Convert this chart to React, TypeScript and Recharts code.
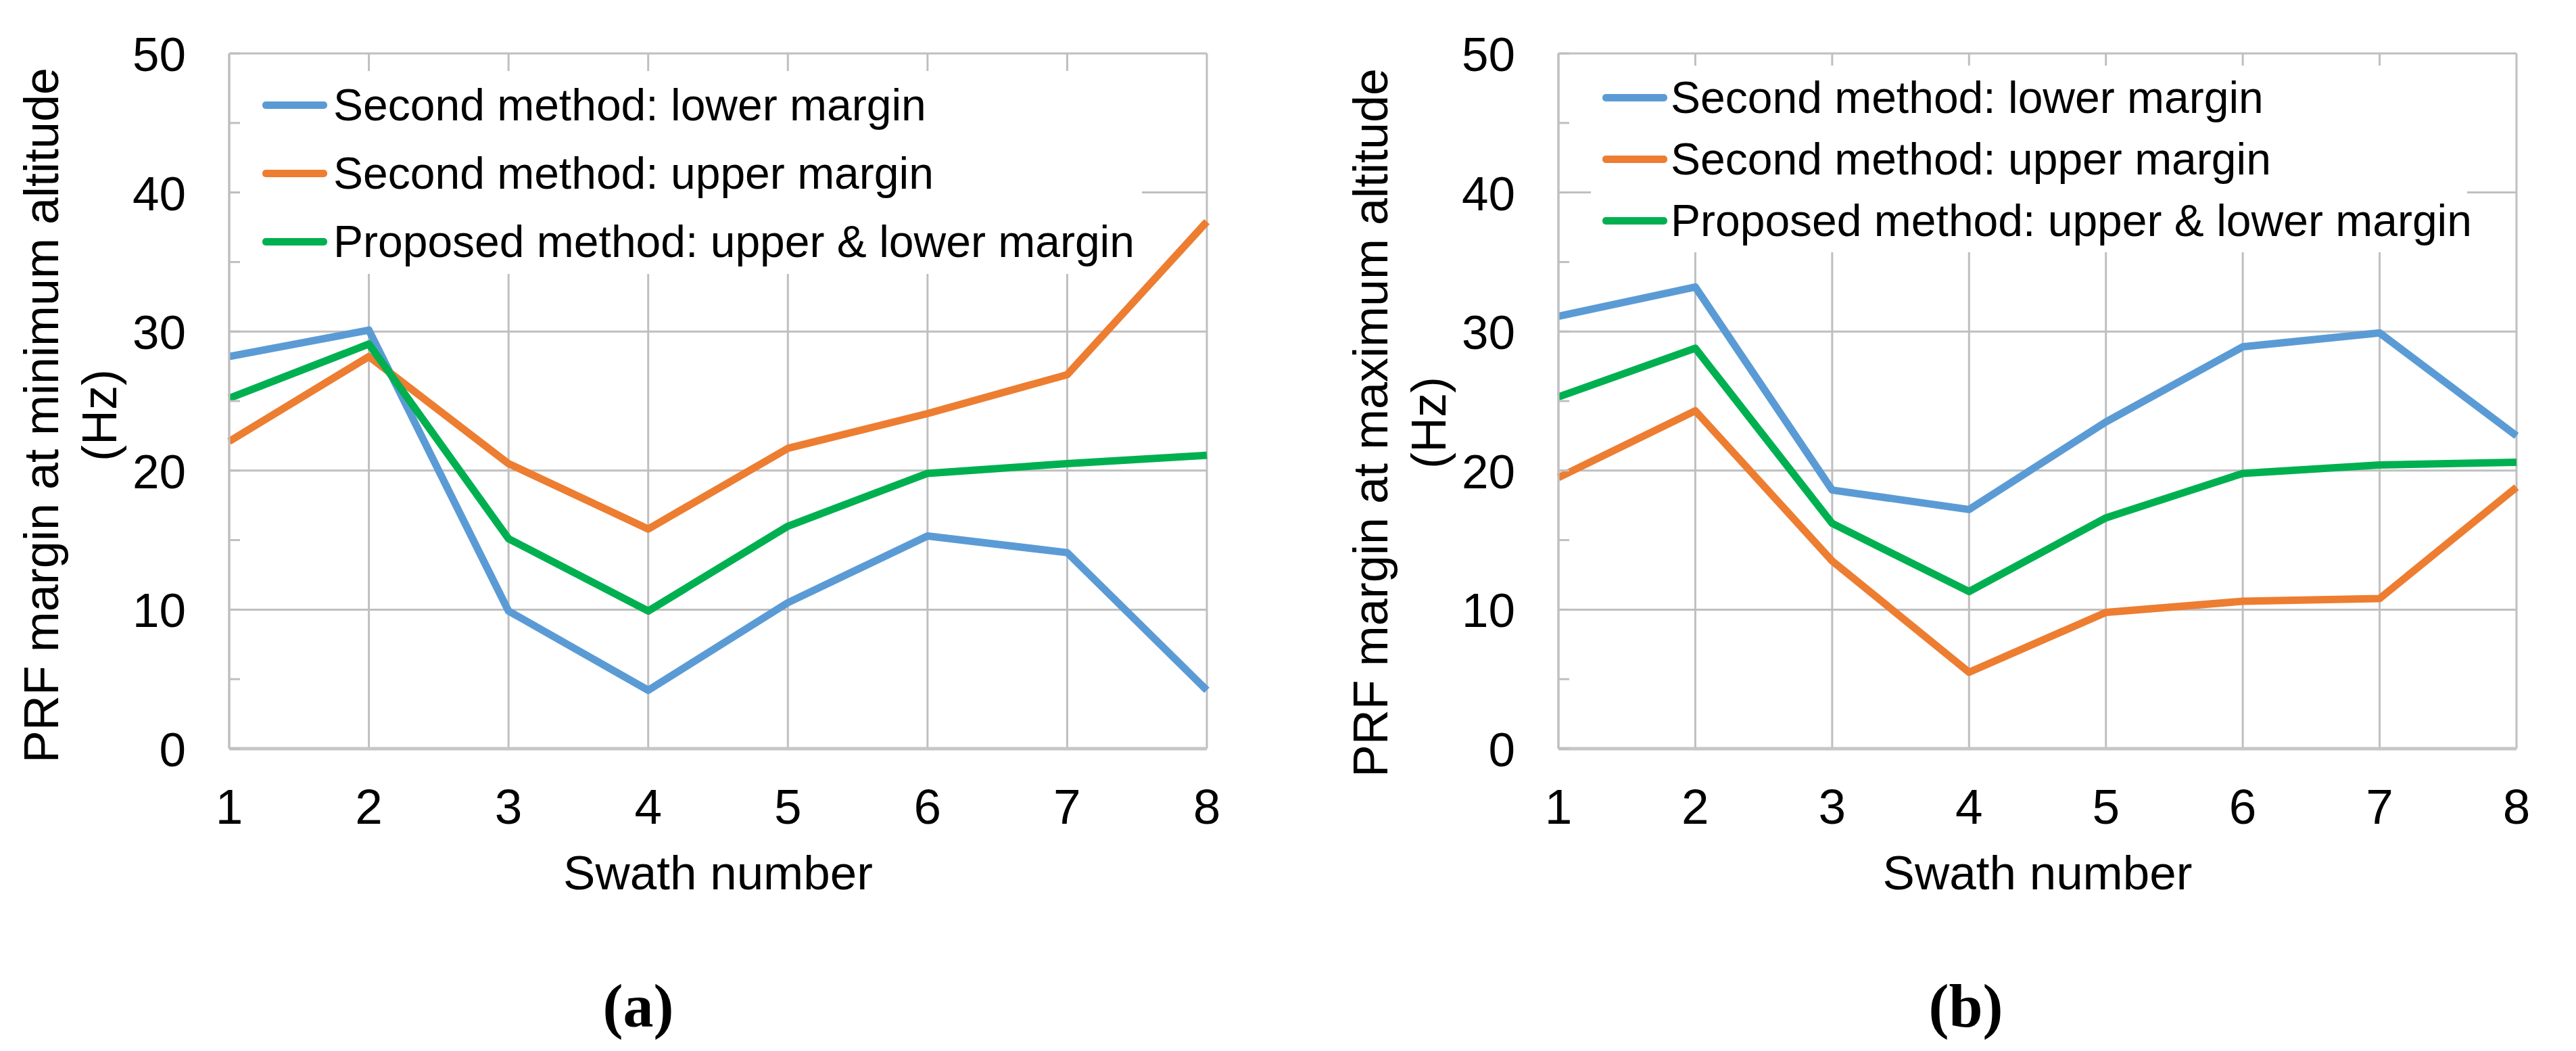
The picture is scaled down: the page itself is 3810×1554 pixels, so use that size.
import React from "react";
import { LineChart, Line, XAxis, YAxis, CartesianGrid, Legend } from "recharts";

// swath numbers on the x axis
const swaths = [1, 2, 3, 4, 5, 6, 7, 8];
const yTicks = [0, 5, 10, 15, 20, 25, 30, 35, 40, 45, 50];
const yGridValues = [0, 10, 20, 30, 40, 50];

// (a) PRF margin at minimum altitude
const minLower = [28.2, 30.1, 9.9, 4.2, 10.5, 15.3, 14.1, 4.2];
const minUpper = [22.1, 28.2, 20.5, 15.8, 21.6, 24.1, 26.9, 37.9];
const minProposed = [25.2, 29.1, 15.1, 9.9, 16.0, 19.8, 20.5, 21.1];

// (b) PRF margin at maximum altitude
const maxLower = [31.1, 33.2, 18.6, 17.2, 23.5, 28.9, 29.9, 22.5];
const maxUpper = [19.5, 24.3, 13.5, 5.5, 9.8, 10.6, 10.8, 18.8];
const maxProposed = [25.3, 28.8, 16.2, 11.3, 16.6, 19.8, 20.4, 20.6];

const seriesKeys = ["lower", "upper", "proposed"];
const seriesNames = [
  "Second method: lower margin",
  "Second method: upper margin",
  "Proposed method: upper & lower margin",
];
const seriesColors = ["#5B9BD5", "#ED7D31", "#00B050"];

const SANS = "'Liberation Sans', Arial, sans-serif";
const SERIF = "'Liberation Serif', 'Times New Roman', serif";
const GRID = "#BFBFBF";

function buildRows(lower: number[], upper: number[], proposed: number[]) {
  return swaths.map((s, i) => ({ swath: s, lower: lower[i], upper: upper[i], proposed: proposed[i] }));
}

const Y_TICK_GAP = 64;

function YTick(props: any) {
  const { x, y, payload } = props;
  const axisX = x + Y_TICK_GAP;
  return (
    <g>
      <line x1={axisX} x2={axisX + 16} y1={y} y2={y} stroke={GRID} strokeWidth={3} />
      {payload.value % 10 === 0 && (
        <text x={x} y={y} dy={26} textAnchor="end" fontSize={71} fontFamily={SANS} fill="#000">
          {payload.value}
        </text>
      )}
    </g>
  );
}

function XTick(props: any) {
  const { x, y, payload } = props;
  return (
    <text x={x} y={y} textAnchor="middle" fontSize={73} fontFamily={SANS} fill="#000">
      {payload.value}
    </text>
  );
}

function YTitle(props: any) {
  const { viewBox, lines, centerY } = props;
  const axisX = viewBox.x + viewBox.width;
  const b1 = axisX - 253;
  const b2 = axisX - 167;
  return (
    <g fontFamily={SANS} fontSize={72} fill="#000">
      <text x={b1} y={centerY} textAnchor="middle" transform={`rotate(-90 ${b1} ${centerY})`}>
        {lines[0]}
      </text>
      <text x={b2} y={centerY} textAnchor="middle" transform={`rotate(-90 ${b2} ${centerY})`}>
        {lines[1]}
      </text>
    </g>
  );
}

function XTitle(props: any) {
  const { viewBox, tag, tagOffset } = props;
  const cx = viewBox.x + viewBox.width / 2;
  const axisY = viewBox.y;
  return (
    <g>
      <text x={cx} y={axisY + 208} textAnchor="middle" fontSize={71} fontFamily={SANS} fill="#000">
        Swath number
      </text>
      <text x={cx + tagOffset} y={axisY + 411} textAnchor="middle" fontSize={90} fontWeight="bold" fontFamily={SERIF} fill="#000">
        {tag}
      </text>
    </g>
  );
}

function makeLegend(rowTop: number, rowGap: number, lineLeft: number, textGap: number) {
  return () => (
    <div style={{ position: "relative", width: "100%", height: "100%", background: "#fff" }}>
      {seriesNames.map((name, i) => (
        <div
          key={name}
          style={{
            position: "absolute",
            left: lineLeft,
            top: rowTop + i * rowGap - 40,
            height: 80,
            display: "flex",
            alignItems: "center",
            whiteSpace: "nowrap",
          }}
        >
          <span style={{ display: "inline-block", width: 96, height: 11, borderRadius: 5, background: seriesColors[i] }} />
          <span style={{ marginLeft: textGap, fontSize: 66, lineHeight: 1, fontFamily: SANS, color: "#000" }}>{name}</span>
        </div>
      ))}
    </div>
  );
}

interface PanelProps {
  rows: any[];
  yLines: string[];
  yCenter: number;
  tag: string;
  tagOffset: number;
  axisWidth: number;
  rightMargin: number;
  legendBox: { left: number; top: number; width: number; height: number };
  legendRowTop: number;
  legendRowGap: number;
  legendLineLeft: number;
  legendTextGap: number;
}

function Panel(p: PanelProps) {
  return (
    <LineChart width={1905} height={1554} data={p.rows} margin={{ top: 79, right: p.rightMargin, bottom: 0, left: 0 }}>
      <CartesianGrid stroke={GRID} strokeWidth={3} horizontalValues={yGridValues} verticalValues={swaths} />
      <XAxis
        dataKey="swath"
        type="number"
        domain={[1, 8]}
        ticks={swaths}
        height={447}
        tickSize={0}
        tickMargin={111}
        tick={<XTick />}
        axisLine={{ stroke: "#C6C6C6", strokeWidth: 5 }}
        tickLine={false}
        label={<XTitle tag={p.tag} tagOffset={p.tagOffset} />}
      />
      <YAxis
        type="number"
        domain={[0, 50]}
        ticks={yTicks}
        interval={0}
        width={p.axisWidth}
        tickSize={0}
        tickMargin={Y_TICK_GAP}
        tick={<YTick />}
        axisLine={{ stroke: GRID, strokeWidth: 3 }}
        tickLine={false}
        label={<YTitle lines={p.yLines} centerY={p.yCenter} />}
      />
      <Legend
        layout="vertical"
        align="center"
        verticalAlign="middle"
        content={makeLegend(p.legendRowTop, p.legendRowGap, p.legendLineLeft, p.legendTextGap)}
        wrapperStyle={{ ...p.legendBox }}
      />
      {seriesKeys.map((k, i) => (
        <Line
          key={k}
          dataKey={k}
          name={seriesNames[i]}
          type="linear"
          stroke={seriesColors[i]}
          strokeWidth={11}
          strokeLinejoin="round"
          dot={false}
          activeDot={false}
          isAnimationActive={false}
        />
      ))}
    </LineChart>
  );
}

export default function App() {
  return (
    <div style={{ position: "absolute", left: 0, top: 0, width: 3810, height: 1554, background: "#fff" }}>
      <div style={{ position: "absolute", left: 0, top: 0 }}>
        <Panel
          rows={buildRows(minLower, minUpper, minProposed)}
          yLines={["PRF margin at minimum altitude", "(Hz)"]}
          yCenter={614}
          tag="(a)"
          tagOffset={-118}
          axisWidth={339}
          rightMargin={120}
          legendBox={{ left: 355, top: 105, width: 1334, height: 300 }}
          legendRowTop={50}
          legendRowGap={101}
          legendLineLeft={33}
          legendTextGap={9}
        />
      </div>
      <div style={{ position: "absolute", left: 1905, top: 0 }}>
        <Panel
          rows={buildRows(maxLower, maxUpper, maxProposed)}
          yLines={["PRF margin at maximum altitude", "(Hz)"]}
          yCenter={625}
          tag="(b)"
          tagOffset={-106}
          axisWidth={400}
          rightMargin={88}
          legendBox={{ left: 448, top: 97, width: 1296, height: 276 }}
          legendRowTop={47}
          legendRowGap={91}
          legendLineLeft={17}
          legendTextGap={5}
        />
      </div>
    </div>
  );
}
